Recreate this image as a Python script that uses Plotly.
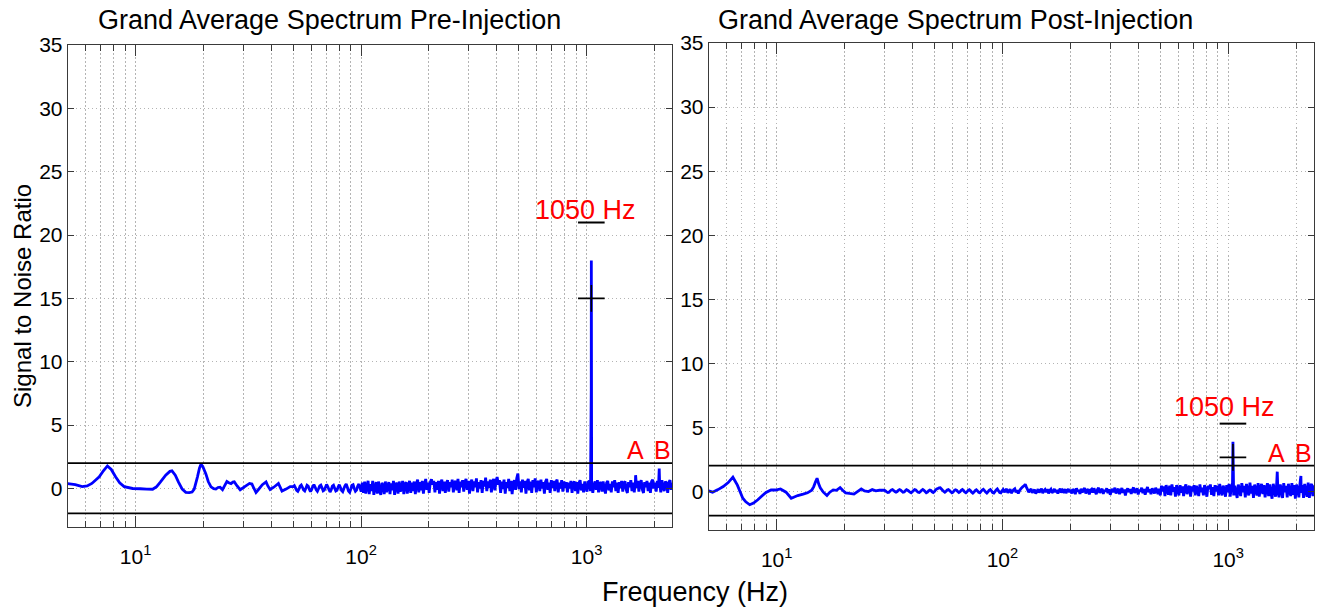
import numpy as np
import plotly.graph_objects as go

# ---------------- DATA ----------------
# Pre-injection: low-frequency part (Hz, SNR)
pre_lf_freq = [5.0, 5.4, 5.8, 6.1, 6.4, 6.9, 7.2, 7.5, 7.8, 8.15, 8.5, 8.9, 9.7, 10.5, 11.2, 11.9,
               12.4, 12.9, 13.6, 14.2, 14.5, 15.0, 15.5, 16.1, 16.7, 17.3, 17.8, 18.2, 18.8, 19.2,
               19.5, 19.9, 20.5, 21.0, 21.6, 22.2, 22.7, 23.2, 23.7, 24.3, 24.8, 25.4, 25.9, 26.5,
               27.0, 27.4, 28.2, 29.1, 30.5, 32.0, 32.8, 33.5, 34.2, 35.0, 36.5, 37.9, 38.6, 39.5,
               41.0, 43.0, 44.6, 46.5, 48.5]
pre_lf_snr = [0.39, 0.30, 0.15, 0.20, 0.40, 0.92, 1.40, 1.78, 1.50, 0.92, 0.45, 0.15, 0.00, -0.02, -0.05, -0.06,
              0.15, 0.52, 1.05, 1.35, 1.39, 1.05, 0.50, -0.05, -0.30, -0.33, -0.28, -0.05, 0.90, 1.60,
              1.92, 1.70, 1.15, 0.55, 0.13, -0.02, -0.05, 0.08, 0.10, -0.10, 0.20, 0.55, 0.45, 0.38,
              0.50, 0.52, 0.20, -0.10, 0.15, 0.40, 0.35, 0.00, -0.32, -0.10, 0.30, 0.52, 0.20, -0.08,
              0.10, 0.40, -0.20, -0.05, 0.15]

# Pre-injection: spectrum from 50 Hz to 2400 Hz (log-spaced bins)
pre_hf_start, pre_hf_stop = 50.0, 2400.0
pre_hf_snr = [
    0.15, 0.22, 0.05, -0.15, -0.22, -0.05, 0.2, 0.28, 0.1, -0.12,
    -0.2, 0.02, 0.25, 0.18, -0.05, -0.25, -0.1, 0.15, 0.3, 0.12,
    -0.1, -0.22, -0.02, 0.2, 0.26, 0.05, -0.18, -0.12, 0.1, 0.32,
    0.15, -0.08, -0.28, -0.1, 0.18, 0.25, 0.02, -0.2, -0.15, 0.12,
    0.3, 0.08, -0.15, -0.25, 0.0, 0.22, 0.35, 0.1, -0.2, -0.3,
    -0.05, 0.25, 0.3, 0.0, -0.22, -0.12, 0.2, 0.35, 0.05, -0.25,
    0.45, -0.35, 0.55, -0.4, 0.2, 0.6, -0.45, 0.35, -0.2, 0.6,
    -0.5, 0.1, 0.5, -0.4, 0.55, -0.15, -0.5, 0.45, 0.25, -0.45,
    0.55, -0.3, 0.15, 0.5, -0.45, 0.4, -0.15, 0.6, -0.5, 0.3,
    0.45, -0.4, 0.55, -0.25, 0.1, 0.6, -0.45, 0.35, 0.5, -0.4,
    0.2, 0.6, -0.35, 0.45, -0.2, 0.55, -0.45, 0.4, 0.7, -0.3,
    0.5, -0.15, 0.6, -0.4, 0.3, 0.75, -0.1, 0.45, -0.35,
    0.5, 0.72, 0.3, 0.6, -0.3, 0.5, -0.1, 0.6, -0.4, 0.45,
    0.7, -0.2, 0.55, -0.35, 0.4, 0.65, -0.25, 0.5, 0.1, 0.7,
    -0.3, 0.45, 0.6, -0.15, 0.75, -0.35, 0.55, 0.1, 0.65, -0.25,
    0.5, 0.75, -0.1, 0.6, -0.4, 0.45, 0.7, -0.2, 0.55, 0.1,
    0.8, -0.3, 0.5, 0.0, 0.65, -0.35, 0.6, 0.15, 0.85, -0.2,
    0.55, 0.05, 0.7, -0.3, 0.5, 0.75, -0.15, 0.6, 0.9,
    0.3, 0.65, -0.35, 0.55, -0.05, 0.7, -0.4, 0.5, 0.05, 0.75,
    -0.2, 0.6, -0.45, 0.45, 0.65, -0.1, 0.8, 1.18, -0.05, 0.55,
    -0.3, 0.7, 0.05, 0.6, -0.4, 0.5, 0.75, -0.15, 0.55, -0.35,
    0.65, 0.1, 0.8, -0.3, 0.45, 0.6, -0.2, 0.7, 0.0, 0.5,
    -0.4, 0.55, 0.75, -0.1, 0.45, -0.35, 0.65, 0.05, 0.6, -0.2,
    0.5, 0.7, -0.3, 0.45, 0.0, 0.65, -0.25, 0.55, 0.05,
    0.5, -0.3, 0.45, 0.0, 0.6, -0.35, 0.4, 0.55, -0.2, 0.5,
    -0.4, 0.45, 0.65, -0.15, 0.35, -0.3, 0.55, 0.1, -0.25, 0.5,
    0.6, -0.2, 0.45, -0.35, 0.3, 0.55, -0.1, 0.65, -0.3, 0.4,
    0.5, -0.25, 0.55, 0.0, -0.4, 0.45, 0.6, -0.15, 0.35, -0.3,
    0.55, 0.1, 0.65, -0.2, 0.45, -0.35, 0.5, 0.05, 0.6, -0.25,
    0.45, 0.55, -0.1, -0.35, 0.5, 0.1, 0.65, -0.2, 0.45,
    -0.3, 0.55, 0.05, 0.6, -0.25, 0.45, 0.65, -0.1, -0.35, 0.5,
    0.1, 0.6, -0.2, 0.45, -0.35, 0.55, 0.7, 0.0, 0.45, -0.25,
    0.6, 0.05, 0.5, -0.3, 0.65, 0.1, -0.2, 0.55, 0.4, -0.35,
    0.5, 0.65, -0.1, 0.45]
# Pre-injection narrow peaks (1050 Hz stimulus, A, B)
pre_peak_freq = [1049.0, 1050.0, 1650.0, 2100.0]
pre_peak_snr = [7.8, 18.0, 1.05, 1.58]
pre_thresholds = [2.0, -1.97]
pre_plus_snr = 15.0
pre_dash_snr = 21.0

# Post-injection: low-frequency part
post_lf_freq = [5.0, 5.2, 5.5, 5.8, 6.1, 6.4, 6.7, 7.08, 7.3, 7.6, 7.9, 8.25, 8.6, 8.97, 9.44, 9.9,
                10.4, 11.0, 11.6, 12.4, 13.1, 13.7, 14.3, 14.6, 14.85, 15.1, 15.35, 15.6, 16.1, 16.7,
                17.2, 17.8, 18.4, 19.1, 19.6, 20.2, 21.0, 22.0, 22.8, 23.7, 24.5, 25.5, 26.5, 27.5, 28.5]
post_lf_snr = [0.05, -0.05, 0.15, 0.39, 0.70, 1.12, 0.50, -0.52, -0.80, -1.03, -0.90, -0.64, -0.35, -0.07, 0.13, 0.12,
               0.20, -0.05, -0.52, -0.31, -0.20, -0.10, 0.10, 0.39, 0.75, 1.04, 0.60, 0.30, -0.05, -0.31,
               -0.05, 0.13, 0.10, 0.31, 0.10, -0.10, -0.15, -0.20, 0.00, 0.20, 0.05, 0.00, 0.15, 0.05, 0.10]

# Post-injection: spectrum from 30 Hz to 2400 Hz (log-spaced bins)
post_hf_start, post_hf_stop = 30.0, 2400.0
post_hf_snr = [
    0.1, 0.05, -0.02, -0.08, -0.05, 0.05, 0.12, 0.15, 0.08, 0.0,
    -0.05, 0.0, 0.1, 0.15, 0.1, 0.02, -0.06, -0.04, 0.06, 0.14,
    0.1, 0.03, -0.05, -0.1, -0.02, 0.08, 0.15, 0.12, 0.02, -0.06,
    -0.08, 0.0, 0.1, 0.16, 0.1, 0.0, -0.1, -0.05, 0.06, 0.12,
    0.08, -0.02, -0.08, 0.0, 0.12, 0.2, 0.24, 0.28, 0.3, 0.2,
    0.1, 0.02, -0.05, 0.02, 0.12, 0.15, 0.08, -0.02, -0.1, -0.05,
    0.08, 0.14, 0.1, 0.0, -0.08, -0.02, 0.1, 0.16, 0.08, -0.04,
    -0.1, -0.02, 0.1, 0.15, 0.06, -0.05, -0.12, -0.04, 0.08, 0.14,
    0.05, -0.06, -0.1, 0.02, 0.12, 0.18, 0.08, -0.04, -0.12, -0.02,
    0.1, 0.16, 0.05, -0.08, -0.12, 0.0, 0.12, 0.2, 0.06, -0.08,
    -0.1, 0.05,
    0.15, -0.05, 0.1, 0.2, -0.1, 0.05, 0.18, -0.12, 0.0, 0.15,
    0.22, -0.05, 0.1, -0.15, 0.05, 0.2, 0.3, 0.38, 0.45, 0.57,
    0.35, 0.15, -0.05, 0.1, 0.2, -0.1, 0.05, 0.15, -0.15, 0.0,
    0.18, -0.08, 0.1, 0.22, -0.12, 0.05, 0.15, -0.05, 0.2, -0.15,
    0.08, 0.18, -0.1, 0.02, 0.2, -0.05, 0.12, -0.15, 0.05, 0.22,
    -0.08, 0.1, 0.0, 0.18, -0.12, 0.08, 0.2, -0.05,
    0.15, -0.15, 0.2, 0.05, -0.2, 0.25, 0.0, 0.12, -0.18, 0.22,
    -0.05, 0.1, 0.28, -0.15, 0.05, 0.2, -0.22, 0.1, 0.18, -0.08,
    0.25, 0.0, -0.2, 0.15, 0.3, -0.1, 0.05, 0.22, -0.18, 0.12,
    0.0, 0.25, -0.12, 0.18, -0.25, 0.08, 0.2, -0.05, 0.3, -0.15,
    0.1, 0.22, -0.2, 0.05, 0.28, -0.1, 0.15, -0.3, 0.1, 0.25,
    -0.05, 0.2, -0.18, 0.12, 0.32, -0.1, 0.05, 0.25, -0.22, 0.15,
    0.0, 0.3, -0.12, 0.2, -0.25, 0.1, 0.35, -0.05, 0.18, -0.2,
    0.25, 0.05, -0.15, 0.3, 0.1, -0.2, 0.22,
    -0.3, 0.45, 0.0, 0.4, -0.35, 0.5, 0.1, -0.25, 0.45, -0.3,
    0.55, 0.0, 0.35, -0.4, 0.5, 0.15, -0.3, 0.5, -0.1, 0.4,
    -0.35, 0.3, 0.55, -0.2, 0.25, 0.45, -0.4, 0.4, 0.0, 0.5,
    -0.3, 0.45, 0.1, -0.35, 0.55, -0.05, 0.3, -0.3, 0.5, 0.1,
    -0.4, 0.45, 0.2, 0.55, -0.25, 0.35, -0.35, 0.5, 0.0, 0.45,
    -0.3, 0.6, 0.05, -0.3, 0.45, 0.2, -0.4, 0.5, -0.05,
    0.6, -0.4, 0.3, 0.65, -0.3, 0.45, -0.05, -0.5, 0.55, 0.1,
    -0.35, 0.65, -0.05, 0.45, -0.45, 0.6, 0.0, -0.3, 0.7, -0.15,
    0.45, -0.5, 0.55, 0.15, -0.3, 0.65, -0.4, 0.35, 0.6, -0.2,
    0.5, -0.45, 0.2, 0.65, -0.35, 0.55, -0.1, -0.55, 0.6, 0.15,
    -0.4, 0.7, 0.0, -0.45, 0.55, 0.2, -0.5, 0.65, -0.05, 0.45,
    -0.45, 0.6, 0.1, -0.35, 0.65, -0.25, 0.5, -0.55, 0.55, 0.15,
    -0.45, 0.65, -0.1, 0.5, -0.5, 0.6, 0.05, -0.4, 0.7, -0.5,
    0.45, 0.6, -0.35, 0.5]
post_peak_freq = [1050.0, 1650.0, 2100.0]
post_peak_snr = [3.88, 1.55, 1.22]
post_thresholds = [2.02, -1.88]
post_plus_snr = 2.67
post_dash_snr = 5.3

stim_freq = 1050.0
x_range_hz = [5.0, 2400.0]
y_range = [-3, 35]
y_ticks = [0, 5, 10, 15, 20, 25, 30, 35]
x_major = [10, 100, 1000]
x_major_text = ["10<sup>1</sup>", "10<sup>2</sup>", "10<sup>3</sup>"]
x_minor = [6, 7, 8, 9, 20, 30, 40, 50, 60, 70, 80, 90,
           200, 300, 400, 500, 600, 700, 800, 900, 2000]
titles = ["Grand Average Spectrum Pre-Injection", "Grand Average Spectrum Post-Injection"]
stim_label = "1050 Hz"
peak_labels = ["A", "B"]


# ---------------- BUILD ----------------
def spectrum(lf_f, lf_s, start, stop, hf_s, pk_f, pk_s):
    hf_f = np.geomspace(start, stop, len(hf_s))
    f = np.concatenate([lf_f, hf_f, pk_f])
    s = np.concatenate([lf_s, hf_s, pk_s])
    order = np.argsort(f, kind="stable")
    return f[order], s[order]


pre_f, pre_s = spectrum(pre_lf_freq, pre_lf_snr, pre_hf_start, pre_hf_stop,
                        pre_hf_snr, pre_peak_freq, pre_peak_snr)
post_f, post_s = spectrum(post_lf_freq, post_lf_snr, post_hf_start, post_hf_stop,
                          post_hf_snr, post_peak_freq, post_peak_snr)

W, H = 1324, 616
FONT = "Liberation Sans, Arial, Helvetica, sans-serif"
BLUE = "#0000ff"
RED = "#ff0000"
AX = "#3a3a3a"
GRID = "#b4b4b4"
GDASH = "1.5px,2.5px"

fig = go.Figure()

panels = [
    dict(xa="x", ya="y", f=pre_f, s=pre_s, thr=pre_thresholds, plus=pre_plus_snr, dash=pre_dash_snr),
    dict(xa="x2", ya="y2", f=post_f, s=post_s, thr=post_thresholds, plus=post_plus_snr, dash=post_dash_snr),
]
for p in panels:
    fig.add_trace(go.Scatter(x=p["f"], y=p["s"], mode="lines", xaxis=p["xa"], yaxis=p["ya"],
                             line=dict(color=BLUE, width=2.8, simplify=False), hoverinfo="skip"))
    for t in p["thr"]:
        fig.add_trace(go.Scatter(x=x_range_hz, y=[t, t], mode="lines", xaxis=p["xa"], yaxis=p["ya"],
                                 line=dict(color="black", width=1.8), hoverinfo="skip"))
    fig.add_trace(go.Scatter(x=[stim_freq], y=[p["plus"]], mode="markers", xaxis=p["xa"], yaxis=p["ya"],
                             marker=dict(symbol="cross-thin", size=19, color="black",
                                         line=dict(color="black", width=1.6)), hoverinfo="skip"))
    fig.add_trace(go.Scatter(x=[stim_freq], y=[p["dash"]], mode="markers", xaxis=p["xa"], yaxis=p["ya"],
                             marker=dict(symbol="line-ew", size=19, color="black",
                                         line=dict(color="black", width=2)), hoverinfo="skip"))

xcommon = dict(
    type="log", range=[np.log10(x_range_hz[0]), np.log10(x_range_hz[1])],
    tickmode="array", tickvals=x_major, ticktext=x_major_text,
    ticks="inside", ticklen=11, tickwidth=1, tickcolor=AX,
    showline=True, linecolor=AX, linewidth=1, mirror="ticks",
    showgrid=True, gridcolor=GRID, griddash=GDASH, gridwidth=1,
    minor=dict(tickmode="array", tickvals=x_minor, ticks="inside", ticklen=6, tickcolor=AX,
               showgrid=True, gridcolor=GRID, griddash=GDASH, gridwidth=1),
    tickfont=dict(family=FONT, size=21, color="black"),
    ticklabelstandoff=11, zeroline=False, automargin=False,
)
ycommon = dict(
    range=y_range, tickmode="array", tickvals=y_ticks,
    ticks="inside", ticklen=6, tickwidth=1, tickcolor=AX,
    showline=True, linecolor=AX, linewidth=1, mirror="ticks",
    showgrid=True, gridcolor=GRID, griddash=GDASH, gridwidth=1,
    tickfont=dict(family=FONT, size=21, color="black"), zeroline=False, automargin=False,
)

fig.update_layout(
    template="none",
    width=W, height=H, margin=dict(l=0, r=0, t=0, b=0, pad=0), autosize=False,
    paper_bgcolor="white", plot_bgcolor="white", showlegend=False,
    xaxis=dict(domain=[67.7 / W, 672.3 / W], anchor="y", **xcommon),
    yaxis=dict(domain=[1 - 526.5 / H, 1 - 45 / H], anchor="x", **ycommon),
    xaxis2=dict(domain=[708.7 / W, 1314.0 / W], anchor="y2", **xcommon),
    yaxis2=dict(domain=[1 - 530 / H, 1 - 43 / H], anchor="x2", **ycommon),
)

ann = []
# titles
for t, cx in zip(titles, [329, 955]):
    ann.append(dict(text=t, x=cx / W, y=1 - 20 / H, xref="paper", yref="paper",
                    xanchor="center", yanchor="middle", showarrow=False,
                    font=dict(family=FONT, size=27, color="black")))
ann.append(dict(text="Signal to Noise Ratio", x=22 / W, y=1 - 296 / H, xref="paper", yref="paper",
                textangle=-90, xanchor="center", yanchor="middle", showarrow=False,
                font=dict(family=FONT, size=24, color="black")))
ann.append(dict(text="Frequency (Hz)", x=695 / W, y=1 - 592 / H, xref="paper", yref="paper",
                xanchor="center", yanchor="middle", showarrow=False,
                font=dict(family=FONT, size=27, color="black")))
# red labels (positions in data units)
red_pos = [
    ("x", "y", 989, 22.0, stim_label, 27),
    ("x", "y", 1640, 3.04, peak_labels[0], 25),
    ("x", "y", 2172, 3.04, peak_labels[1], 25),
    ("x2", "y2", 967, 6.6, stim_label, 27),
    ("x2", "y2", 1643, 3.0, peak_labels[0], 25),
    ("x2", "y2", 2154, 3.0, peak_labels[1], 25),
]
for xr, yr, fx, fy, txt, sz in red_pos:
    ann.append(dict(text=txt, x=np.log10(fx), y=fy, xref=xr, yref=yr,
                    xanchor="center", yanchor="middle", showarrow=False,
                    font=dict(family=FONT, size=sz, color=RED)))
fig.update_layout(annotations=ann)

fig.write_html("out.html", config={"displayModeBar": False},
               post_script="document.body.style.margin='0';document.body.style.overflow='hidden';")
